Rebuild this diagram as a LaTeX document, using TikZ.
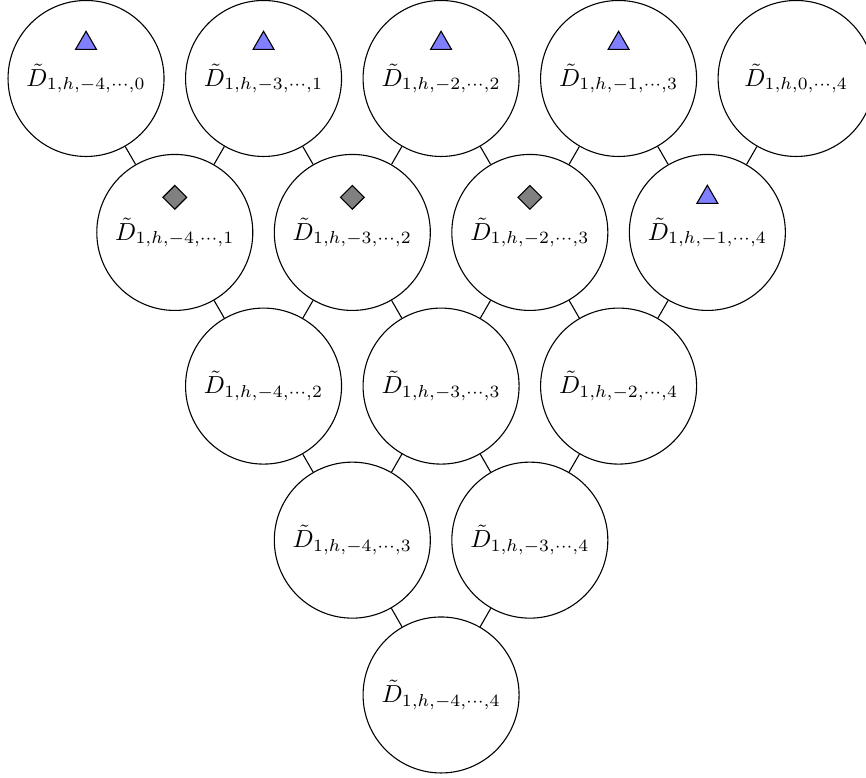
\documentclass[tikz,border=0pt]{standalone}
\usepackage{graphicx}
\usetikzlibrary{shapes.geometric}
\newcommand\lbl[1]{\scalebox{0.9}{$\tilde{D}_{#1}$}}
\begin{document}
\begin{tikzpicture}[
  cnode/.style={circle,draw,minimum size=2cm,inner sep=0pt},
  tri/.style={regular polygon,regular polygon sides=3,draw,fill=blue!50,minimum size=0.31cm,inner sep=0pt},
  dia/.style={diamond,draw,fill=gray,minimum size=0.31cm,inner sep=0pt},
  link/.style={draw}
]
\useasboundingbox (0,0) rectangle (11.103,-9.974);
\def\dx{2.276}
% row 1
\node[cnode] (a0) at (1.103,-1.006) {\lbl{1,h,-4,\cdots,0}};
\node[cnode] (a1) at (1.103+\dx,-1.006) {\lbl{1,h,-3,\cdots,1}};
\node[cnode] (a2) at (1.103+2*\dx,-1.006) {\lbl{1,h,-2,\cdots,2}};
\node[cnode] (a3) at (1.103+3*\dx,-1.006) {\lbl{1,h,-1,\cdots,3}};
\node[cnode] (a4) at (1.103+4*\dx,-1.006) {\lbl{1,h,0,\cdots,4}};
% row 2
\node[cnode] (b0) at (1.103+0.5*\dx,-2.98) {\lbl{1,h,-4,\cdots,1}};
\node[cnode] (b1) at (1.103+1.5*\dx,-2.98) {\lbl{1,h,-3,\cdots,2}};
\node[cnode] (b2) at (1.103+2.5*\dx,-2.98) {\lbl{1,h,-2,\cdots,3}};
\node[cnode] (b3) at (1.103+3.5*\dx,-2.98) {\lbl{1,h,-1,\cdots,4}};
% row 3
\node[cnode] (c0) at (1.103+1*\dx,-4.95) {\lbl{1,h,-4,\cdots,2}};
\node[cnode] (c1) at (1.103+2*\dx,-4.95) {\lbl{1,h,-3,\cdots,3}};
\node[cnode] (c2) at (1.103+3*\dx,-4.95) {\lbl{1,h,-2,\cdots,4}};
% row 4
\node[cnode] (d0) at (1.103+1.5*\dx,-6.925) {\lbl{1,h,-4,\cdots,3}};
\node[cnode] (d1) at (1.103+2.5*\dx,-6.925) {\lbl{1,h,-3,\cdots,4}};
% row 5
\node[cnode] (e0) at (1.103+2*\dx,-8.91) {\lbl{1,h,-4,\cdots,4}};
% markers
\node[tri] (ta0) at ([yshift=0.45cm]a0.center) {};
\node[tri] (ta1) at ([yshift=0.45cm]a1.center) {};
\node[tri] (ta2) at ([yshift=0.45cm]a2.center) {};
\node[tri] (ta3) at ([yshift=0.45cm]a3.center) {};
\node[dia] (db0) at ([yshift=0.45cm]b0.center) {};
\node[dia] (db1) at ([yshift=0.45cm]b1.center) {};
\node[dia] (db2) at ([yshift=0.45cm]b2.center) {};
\node[tri] (tb3) at ([yshift=0.45cm]b3.center) {};
% links
\foreach \j/\k in {0/1,1/2,2/3,3/4} {
  \path[link] (b\j) -- (a\j);
  \path[link] (b\j) -- (a\k);
}
\foreach \j/\k in {0/1,1/2,2/3} {
  \path[link] (c\j) -- (b\j);
  \path[link] (c\j) -- (b\k);
}
\foreach \j/\k in {0/1,1/2} {
  \path[link] (d\j) -- (c\j);
  \path[link] (d\j) -- (c\k);
}
\path[link] (e0) -- (d0);
\path[link] (e0) -- (d1);
\end{tikzpicture}
\end{document}
